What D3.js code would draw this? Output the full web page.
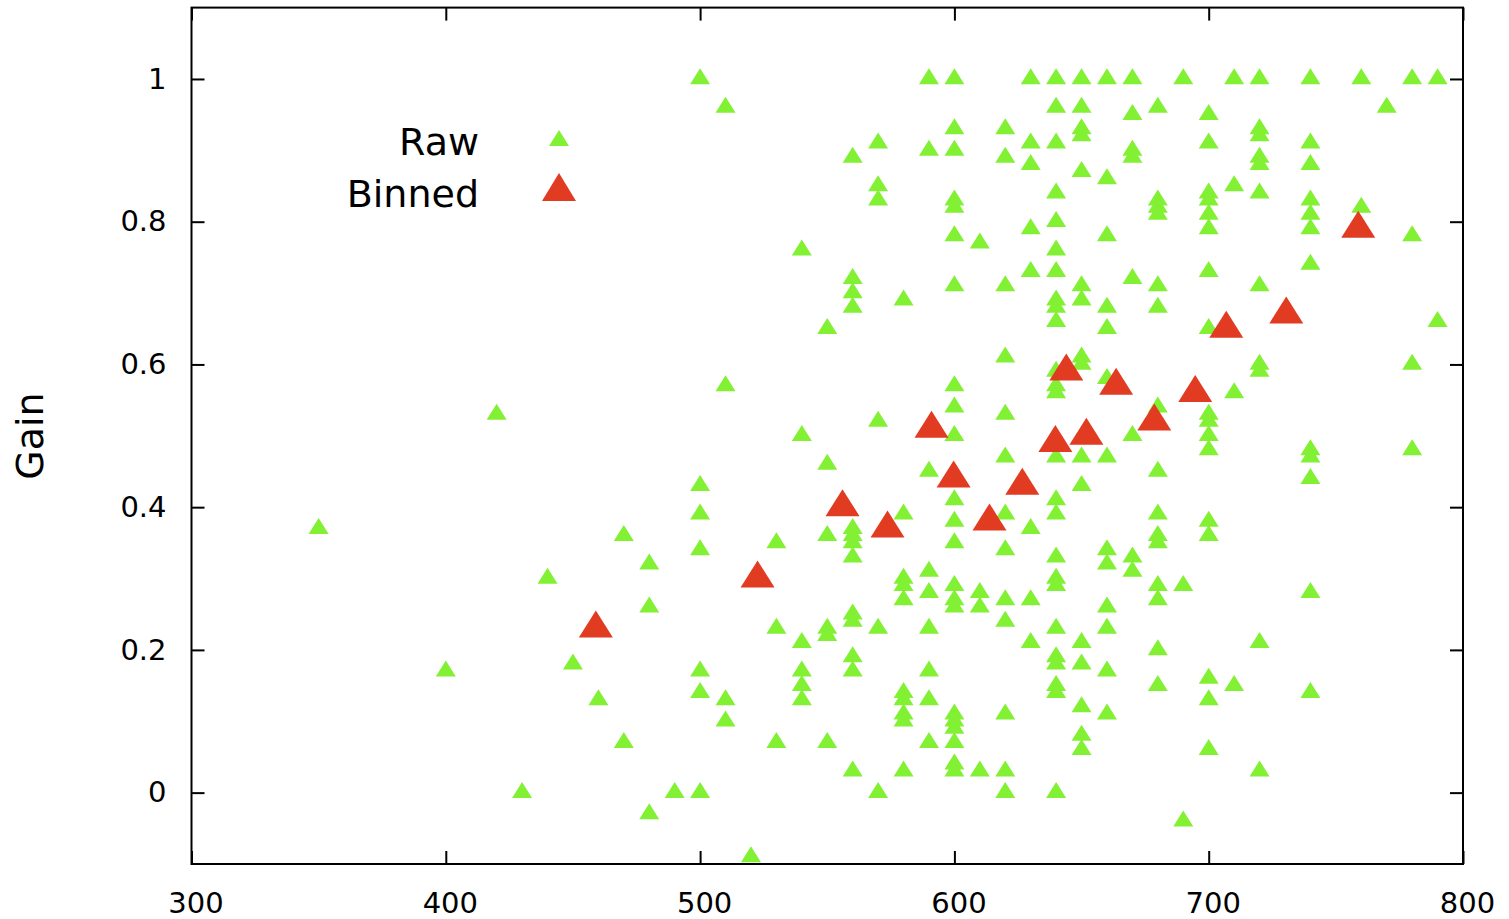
<!DOCTYPE html>
<html>
<head>
<meta charset="utf-8">
<script src="https://cdn.jsdelivr.net/npm/d3@7"></script>
<style>
  body { margin: 0; background: #fff; }
  text { font-family: "DejaVu Sans", Verdana, sans-serif; fill: #000; }
</style>
</head>
<body>
<div id="chart"></div>
<script>
"use strict"
var rawColumns = [350, 400, 420, 430, 440, 450, 460, 470, 480, 490, 500, 510, 520, 530, 540, 550,
  560, 570, 580, 590, 600, 610, 620, 630, 640, 650, 660, 670, 680, 690, 700, 710, 720, 740, 760, 770, 780, 790]
var rawGains = [
  [0.37],
  [0.17],
  [0.53],
  [0.00],
  [0.30],
  [0.18],
  [0.13],
  [0.36, 0.07],
  [0.32, 0.26, -0.03],
  [0.00],
  [1.00, 0.43, 0.39, 0.34, 0.17, 0.14, 0.00],
  [0.96, 0.57, 0.13, 0.10],
  [-0.09],
  [0.35, 0.23, 0.07],
  [0.76, 0.50, 0.21, 0.17, 0.15, 0.13],
  [0.65, 0.46, 0.36, 0.23, 0.22, 0.07],
  [0.89, 0.72, 0.70, 0.68, 0.37, 0.36, 0.35, 0.33, 0.25, 0.24, 0.19, 0.17, 0.03],
  [0.91, 0.85, 0.83, 0.52, 0.23, 0.00],
  [0.69, 0.39, 0.30, 0.29, 0.27, 0.14, 0.13, 0.11, 0.10, 0.03],
  [1.00, 0.90, 0.45, 0.31, 0.28, 0.23, 0.17, 0.13, 0.07],
  [1.00, 0.93, 0.90, 0.83, 0.82, 0.78, 0.71, 0.57, 0.54, 0.50, 0.41, 0.38, 0.35, 0.29, 0.27, 0.26,
    0.11, 0.10, 0.09, 0.07, 0.04, 0.03],
  [0.77, 0.28, 0.26, 0.03],
  [0.93, 0.89, 0.71, 0.61, 0.53, 0.47, 0.39, 0.34, 0.27, 0.24, 0.11, 0.03, 0.00],
  [1.00, 0.91, 0.88, 0.79, 0.73, 0.37, 0.27, 0.21],
  [1.00, 0.96, 0.91, 0.84, 0.80, 0.76, 0.73, 0.69, 0.68, 0.66, 0.59, 0.57, 0.56, 0.47, 0.41, 0.39,
    0.33, 0.30, 0.29, 0.23, 0.19, 0.18, 0.15, 0.14, 0.00],
  [1.00, 0.96, 0.93, 0.92, 0.87, 0.71, 0.69, 0.61, 0.60, 0.47, 0.43, 0.21, 0.18, 0.12, 0.08, 0.06],
  [1.00, 0.86, 0.78, 0.68, 0.65, 0.58, 0.47, 0.34, 0.32, 0.26, 0.23, 0.17, 0.11],
  [1.00, 0.95, 0.90, 0.89, 0.72, 0.50, 0.33, 0.31],
  [0.96, 0.83, 0.82, 0.81, 0.71, 0.68, 0.54, 0.45, 0.39, 0.36, 0.35, 0.29, 0.27, 0.20, 0.15],
  [1.00, 0.29, -0.04],
  [0.95, 0.91, 0.84, 0.83, 0.81, 0.79, 0.73, 0.65, 0.53, 0.52, 0.50, 0.48, 0.38, 0.36, 0.16, 0.13, 0.06],
  [1.00, 0.85, 0.56, 0.15],
  [1.00, 0.93, 0.92, 0.89, 0.88, 0.84, 0.71, 0.60, 0.59, 0.21, 0.03],
  [1.00, 0.91, 0.88, 0.83, 0.81, 0.79, 0.74, 0.48, 0.47, 0.44, 0.28, 0.14],
  [1.00, 0.82],
  [0.96],
  [1.00, 0.78, 0.60, 0.48],
  [1.00, 0.66]
]

// Binned averages
var binnedX = [459, 522.6, 556, 573.7, 591, 599.7, 613.8, 626.7, 639.7, 644, 651.9, 663.6, 678.6, 694.7, 706.9, 730.5, 758.8]
var binnedGain = [0.23, 0.30, 0.40, 0.37, 0.51, 0.44, 0.38, 0.43, 0.49, 0.59, 0.50, 0.57, 0.52, 0.56, 0.65, 0.67, 0.79]

var xTicks = [300, 400, 500, 600, 700, 800]
var yTicks = [0, 0.2, 0.4, 0.6, 0.8, 1]

var width = 1509
var height = 919
var margin = {top: 7.6, right: 46, bottom: 55, left: 191.5}
var drawWidth = width - margin.left - margin.right
var drawHeight = height - margin.top - margin.bottom

var rawColor = "#82f033"
var binnedColor = "#e13b22"

var raw = []
rawColumns.forEach(function(x, i) {
  rawGains[i].forEach(function(g) { raw.push([x, g]) })
})
var binned = binnedX.map(function(x, i) { return [x, binnedGain[i]] })

var xScale = d3.scaleLinear().domain([300, 800]).range([0, drawWidth])
var yScale = d3.scaleLinear().domain([-0.1, 1.1]).range([drawHeight, 0])

// triangle with its centroid on the point: (half width, rise above, drop below)
function triangle(hw, up, down) {
  return function(d) {
    var x = xScale(d[0]), y = yScale(d[1])
    return "M" + x + "," + (y - up) + "L" + (x + hw) + "," + (y + down) + "L" + (x - hw) + "," + (y + down) + "Z"
  }
}

var svg = d3.select("#chart").append("svg")
    .attr("width", width)
    .attr("height", height)

var g = svg.append("g")
    .attr("transform", "translate(" + margin.left + "," + margin.top + ")")

var fmt = function(d) { return d3.format("~g")(d) }

// axes with inward ticks, mirrored on top and right
g.append("g").attr("class", "x axis")
    .attr("transform", "translate(0," + drawHeight + ")")
    .call(d3.axisBottom(xScale).tickValues(xTicks).tickSizeInner(-13).tickSizeOuter(0).tickPadding(28).tickFormat(fmt))
g.append("g").attr("class", "x2 axis")
    .call(d3.axisTop(xScale).tickValues(xTicks).tickSizeInner(-13).tickSizeOuter(0).tickFormat(""))
g.append("g").attr("class", "y axis")
    .call(d3.axisLeft(yScale).tickValues(yTicks).tickSizeInner(-13).tickSizeOuter(0).tickPadding(25).tickFormat(fmt))
g.append("g").attr("class", "y2 axis")
    .attr("transform", "translate(" + drawWidth + ",0)")
    .call(d3.axisRight(yScale).tickValues(yTicks).tickSizeInner(-13).tickSizeOuter(0).tickFormat(""))

g.selectAll(".axis .domain").remove()
g.selectAll(".axis line").attr("stroke", "#000").attr("stroke-width", 2)
g.selectAll(".axis text").style("font-size", "29px").style("font-family", "DejaVu Sans")
g.selectAll(".x.axis text").attr("x", 4)

g.append("rect")
    .attr("width", drawWidth)
    .attr("height", drawHeight)
    .attr("fill", "none")
    .attr("stroke", "#000")
    .attr("stroke-width", 2)

// points
g.append("g").selectAll("path").data(raw).enter().append("path")
    .attr("d", triangle(10, 10.7, 5.3))
    .attr("fill", rawColor)

g.append("g").selectAll("path").data(binned).enter().append("path")
    .attr("d", triangle(17, 18, 9))
    .attr("fill", binnedColor)

// legend
var legend = svg.append("g")
legend.append("text").attr("x", 479).attr("y", 155).attr("text-anchor", "end")
    .style("font-size", "38px").text("Raw")
legend.append("text").attr("x", 479).attr("y", 207).attr("text-anchor", "end")
    .style("font-size", "38px").text("Binned")
legend.append("path").attr("fill", rawColor)
    .attr("d", "M559,130L569,146L549,146Z")
legend.append("path").attr("fill", binnedColor)
    .attr("d", "M559,173L576,201L542,201Z")

// y axis title
svg.append("text")
    .attr("transform", "translate(43,436) rotate(-90)")
    .attr("text-anchor", "middle")
    .style("font-size", "38px")
    .text("Gain")
</script>
</body>
</html>
